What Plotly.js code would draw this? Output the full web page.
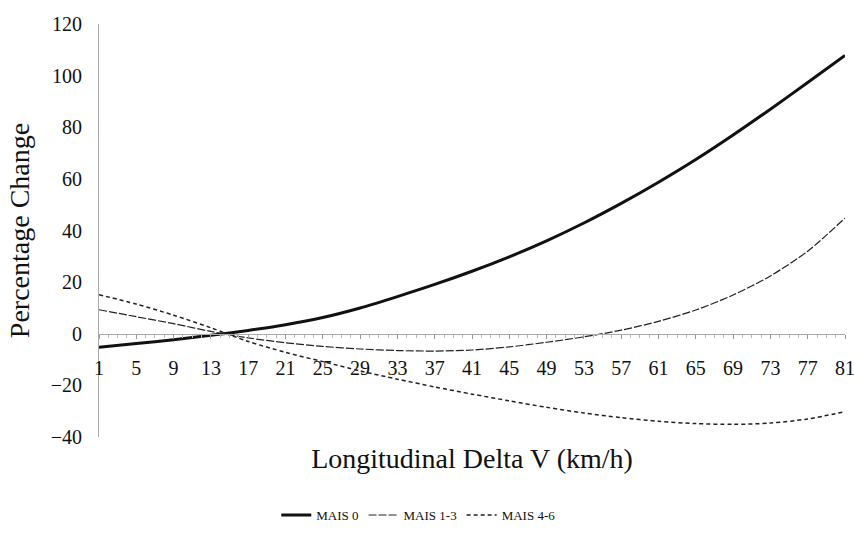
<!DOCTYPE html>
<html>
<head>
<meta charset="utf-8">
<script src="https://cdn.plot.ly/plotly-3.0.1.min.js"></script>
<style>html,body{margin:0;padding:0;background:#fff}#chart{width:854px;height:552px}</style>
</head>
<body>
<div id="chart"></div>
<script>
// Longitudinal Delta V (km/h) sample points
var deltaV = [1,5,9,13,17,21,25,29,33,37,41,45,49,53,57,61,65,69,73,77,81];
var mais0   = [-5.2,-3.8,-2.3,-0.6,1.3,3.5,6.3,10.0,14.4,19.1,24.2,29.8,36.0,42.9,50.5,58.7,67.5,77.0,87.0,97.3,107.8];
var mais13  = [9.3,6.6,3.9,0.9,-1.6,-3.5,-4.9,-5.9,-6.5,-6.7,-6.3,-5.1,-3.3,-1.2,1.4,4.8,9.2,15.0,22.4,32.0,44.8];
var mais46  = [15.1,11.5,7.2,2.3,-3.0,-7.2,-10.8,-14.4,-17.6,-20.6,-23.4,-26.0,-28.5,-30.7,-32.5,-33.9,-34.8,-35.1,-34.6,-33.0,-30.2];
var seriesNames = ["MAIS 0","MAIS 1-3","MAIS 4-6"];
var xTitle = "Longitudinal Delta V (km/h)";
var yTitle = "Percentage Change";

var serif = "Liberation Serif, Times New Roman, serif";
var traces = [
  {x: deltaV, y: mais0, name: seriesNames[0], mode: "lines",
   line: {color: "#111", width: 3, shape: "spline", smoothing: 0.8}},
  {x: deltaV, y: mais13, name: seriesNames[1], mode: "lines",
   line: {color: "#222", width: 1.2, shape: "spline", smoothing: 0.8, dash: "8px,2px"}},
  {x: deltaV, y: mais46, name: seriesNames[2], mode: "lines",
   line: {color: "#222", width: 1.5, shape: "spline", smoothing: 0.8, dash: "4px,3px"}}
];
var layout = {
  width: 854, height: 552,
  margin: {l: 99, r: 9, t: 24, b: 115},
  paper_bgcolor: "#fff", plot_bgcolor: "#fff",
  showlegend: true,
  legend: {orientation: "h", x: 0.428, xanchor: "center", y: -0.189, yanchor: "middle",
           font: {family: serif, size: 13, color: "#111"}, itemwidth: 30, tracegroupgap: 0},
  xaxis: {
    range: [1, 81], anchor: "free", position: 0.25,
    tickmode: "linear", tick0: 1, dtick: 4,
    ticks: "outside", ticklen: 4, tickcolor: "#999",
    minor: {dtick: 1, tick0: 1, ticks: "outside", ticklen: 3, tickcolor: "#bbb"},
    showline: true, linecolor: "#aaa", linewidth: 1,
    showgrid: false, zeroline: false, ticklabelstandoff: 12,
    ticklabeloverflow: "allow",
    tickfont: {family: serif, size: 20, color: "#111"},
    title: {text: xTitle, font: {family: serif, size: 28, color: "#111"}, standoff: 70}
  },
  yaxis: {
    range: [-40, 120], tickmode: "linear", tick0: -40, dtick: 20,
    showline: true, linecolor: "#aaa", linewidth: 1,
    ticks: "", ticklabelstandoff: 12, ticklabeloverflow: "allow",
    showgrid: false, zeroline: false,
    tickfont: {family: serif, size: 20, color: "#111"},
    title: {text: yTitle, font: {family: serif, size: 28, color: "#111"}, standoff: 12}
  }
};
Plotly.newPlot("chart", traces, layout, {displayModeBar: false, staticPlot: true});
</script>
</body>
</html>
